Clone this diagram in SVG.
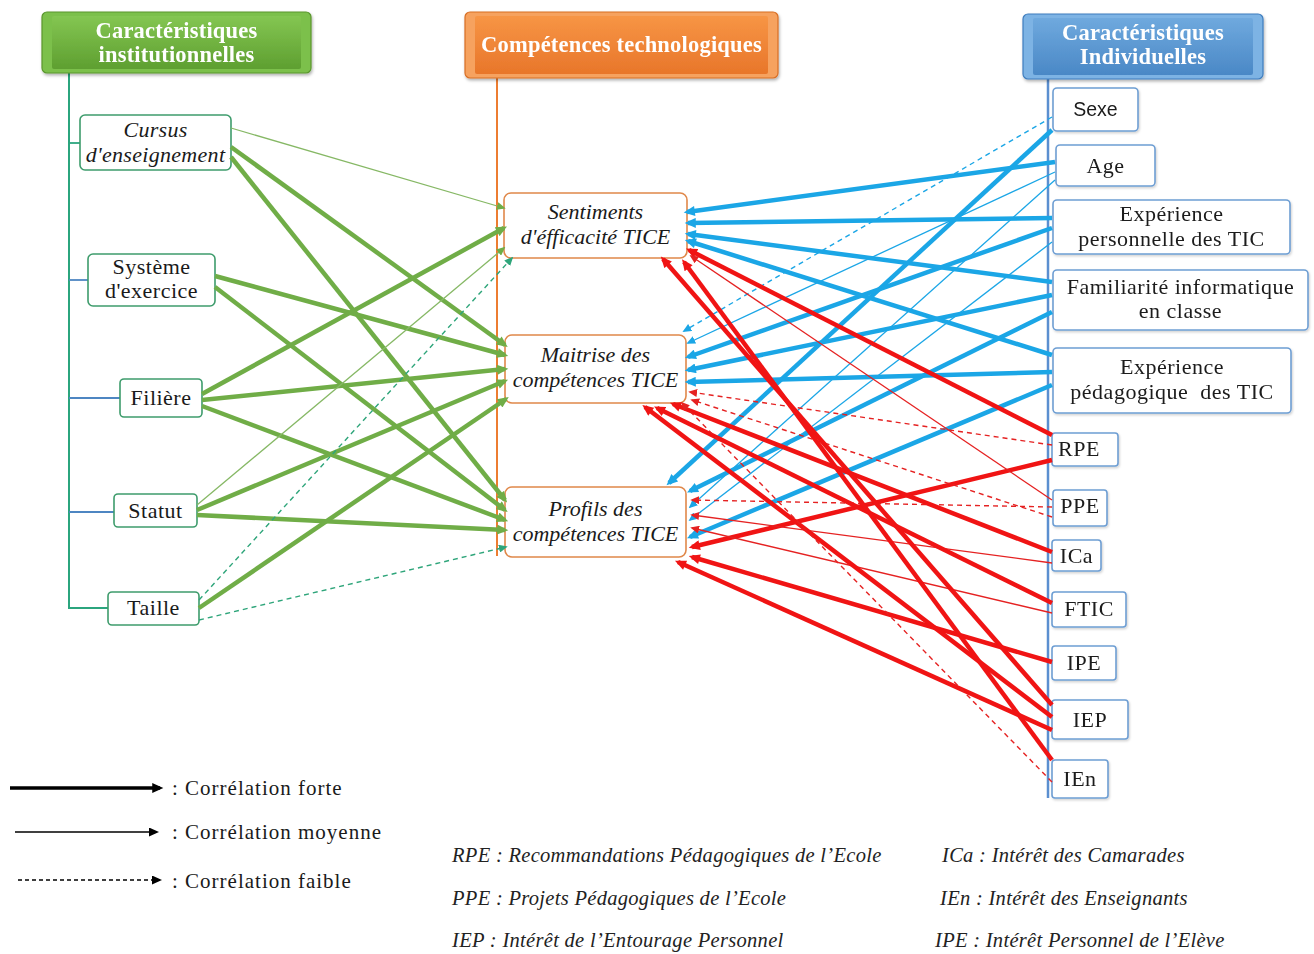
<svg xmlns="http://www.w3.org/2000/svg" width="1314" height="954" viewBox="0 0 1314 954">
<style>
.hd{font-family:"Liberation Serif",serif;font-weight:bold;font-size:22.5px;letter-spacing:0.2px;fill:#fff;text-anchor:middle}
.tx{font-family:"Liberation Serif",serif;font-size:22px;letter-spacing:0.5px;fill:#1a1a1a;text-anchor:middle}
.it{font-style:italic;letter-spacing:0.3px}
.ci{font-style:italic;letter-spacing:0px}
.sn{font-family:"Liberation Sans",sans-serif;font-size:19.5px;fill:#1a1a1a;text-anchor:middle}
.lg{font-family:"Liberation Serif",serif;font-size:21px;letter-spacing:1px;fill:#1a1a1a}
.ab{font-family:"Liberation Serif",serif;font-style:italic;font-size:20.5px;letter-spacing:0.3px;fill:#222}
.nl{fill:#fff;stroke:#3E9C6C;stroke-width:1.6}
.nc{fill:#fff;stroke:#E0884A;stroke-width:1.6}
.nr{fill:#fff;stroke:#6E9ED3;stroke-width:1.6}
.gT{stroke:#70AD47;stroke-width:4.5;fill:none;marker-end:url(#mgT)}
.gt{stroke:#86B865;stroke-width:1.3;fill:none;marker-end:url(#mgt)}
.gd{stroke:#2EA57A;stroke-width:1.4;stroke-dasharray:5 4;fill:none;marker-end:url(#mgd)}
.bT{stroke:#1BA6E6;stroke-width:4.5;fill:none;marker-end:url(#mbT)}
.bt{stroke:#1BA6E6;stroke-width:1.3;fill:none;marker-end:url(#mbt)}
.bd{stroke:#1BA6E6;stroke-width:1.4;stroke-dasharray:5 4;fill:none;marker-end:url(#mbt)}
.rT{stroke:#F01414;stroke-width:4.5;fill:none;marker-end:url(#mrT)}
.rt{stroke:#E52222;stroke-width:1.3;fill:none;marker-end:url(#mrt)}
.rd{stroke:#E52222;stroke-width:1.4;stroke-dasharray:5 4;fill:none;marker-end:url(#mrt)}
</style>
<defs>
<marker id="mgT" viewBox="0 0 10 9" markerWidth="12" markerHeight="10" refX="7" refY="4.5" orient="auto" markerUnits="userSpaceOnUse"><path d="M0,0 L10,4.5 L0,9 z" fill="#70AD47"/></marker>
<marker id="mgt" viewBox="0 0 10 9" markerWidth="9" markerHeight="8" refX="8" refY="4.5" orient="auto" markerUnits="userSpaceOnUse"><path d="M0,0 L10,4.5 L0,9 z" fill="#70AD47"/></marker>
<marker id="mgd" viewBox="0 0 10 9" markerWidth="9" markerHeight="8" refX="8" refY="4.5" orient="auto" markerUnits="userSpaceOnUse"><path d="M0,0 L10,4.5 L0,9 z" fill="#2EA57A"/></marker>
<marker id="mbT" viewBox="0 0 10 9" markerWidth="12" markerHeight="10" refX="7" refY="4.5" orient="auto" markerUnits="userSpaceOnUse"><path d="M0,0 L10,4.5 L0,9 z" fill="#1BA6E6"/></marker>
<marker id="mbt" viewBox="0 0 10 9" markerWidth="9" markerHeight="8" refX="8" refY="4.5" orient="auto" markerUnits="userSpaceOnUse"><path d="M0,0 L10,4.5 L0,9 z" fill="#1BA6E6"/></marker>
<marker id="mrT" viewBox="0 0 10 9" markerWidth="12" markerHeight="10" refX="7" refY="4.5" orient="auto" markerUnits="userSpaceOnUse"><path d="M0,0 L10,4.5 L0,9 z" fill="#F01414"/></marker>
<marker id="mrt" viewBox="0 0 10 9" markerWidth="9" markerHeight="8" refX="8" refY="4.5" orient="auto" markerUnits="userSpaceOnUse"><path d="M0,0 L10,4.5 L0,9 z" fill="#E52222"/></marker>
<marker id="mkT" viewBox="0 0 10 9" markerWidth="12" markerHeight="10" refX="7" refY="4.5" orient="auto" markerUnits="userSpaceOnUse"><path d="M0,0 L10,4.5 L0,9 z" fill="#000"/></marker>
<marker id="mkt" viewBox="0 0 10 9" markerWidth="10" markerHeight="9" refX="8" refY="4.5" orient="auto" markerUnits="userSpaceOnUse"><path d="M0,0 L10,4.5 L0,9 z" fill="#000"/></marker>
<linearGradient id="grG" x1="0" y1="0" x2="0" y2="1"><stop offset="0" stop-color="#84C652"/><stop offset="1" stop-color="#5E9F30"/></linearGradient>
<linearGradient id="grO" x1="0" y1="0" x2="0" y2="1"><stop offset="0" stop-color="#F79545"/><stop offset="1" stop-color="#E8762A"/></linearGradient>
<linearGradient id="grB" x1="0" y1="0" x2="0" y2="1"><stop offset="0" stop-color="#6FA9DE"/><stop offset="1" stop-color="#4A88C6"/></linearGradient>
<filter id="sh" x="-5%" y="-10%" width="110%" height="130%"><feDropShadow dx="1" dy="2" stdDeviation="1.5" flood-color="#000" flood-opacity="0.3"/></filter>
<filter id="sh2" x="-5%" y="-10%" width="115%" height="130%"><feDropShadow dx="1" dy="1.5" stdDeviation="1" flood-color="#000" flood-opacity="0.18"/></filter>
</defs>
<rect width="1314" height="954" fill="#fff"/>

<g id="trunks" fill="none">
<line x1="69" y1="73" x2="69" y2="609" stroke="#2BA57E" stroke-width="2"/>
<line x1="69" y1="143" x2="80" y2="143" stroke="#2BA57E" stroke-width="1.8"/>
<line x1="69" y1="280" x2="88" y2="280" stroke="#4E86C2" stroke-width="1.8"/>
<line x1="69" y1="398" x2="120" y2="398" stroke="#4E86C2" stroke-width="1.8"/>
<line x1="69" y1="512" x2="114" y2="512" stroke="#4E86C2" stroke-width="1.8"/>
<line x1="69" y1="608" x2="108" y2="608" stroke="#2BA57E" stroke-width="1.8"/>
<line x1="497" y1="78" x2="497" y2="556" stroke="#ED7D31" stroke-width="2"/>
<line x1="1048" y1="79" x2="1048" y2="798" stroke="#5B8FD0" stroke-width="2.5"/>
</g>

<g id="header-inst" filter="url(#sh)">
<rect x="42" y="12" width="269" height="61" rx="5" fill="#7CC04B" stroke="#5A962E" stroke-width="1.2"/>
<rect x="52" y="16" width="249" height="53" rx="2" fill="url(#grG)"/>
<text class="hd" x="176.5" y="38">Caractéristiques</text>
<text class="hd" x="176.5" y="62">institutionnelles</text>
</g>
<g id="header-comp" filter="url(#sh)">
<rect x="465" y="12" width="313" height="66" rx="5" fill="#F6A25E" stroke="#D86E25" stroke-width="1.2"/>
<rect x="475" y="16" width="293" height="58" rx="2" fill="url(#grO)"/>
<text class="hd" x="621.5" y="52">Compétences technologiques</text>
</g>
<g id="header-ind" filter="url(#sh)">
<rect x="1023" y="14" width="240" height="65" rx="5" fill="#7DB3E4" stroke="#3F7DBE" stroke-width="1.2"/>
<rect x="1033" y="18" width="220" height="57" rx="2" fill="url(#grB)"/>
<text class="hd" x="1143" y="40">Caractéristiques</text>
<text class="hd" x="1143" y="64">Individuelles</text>
</g>

<g id="n-cursus"><rect class="nl" x="80" y="115" width="151" height="55" rx="5"/><text class="tx it" x="155.5" y="137">Cursus</text><text class="tx it" x="155.5" y="162">d'enseignement</text></g>
<g id="n-systeme"><rect class="nl" x="88" y="254" width="127" height="52" rx="5"/><text class="tx" x="151.5" y="274">Système</text><text class="tx" x="151.5" y="298">d'exercice</text></g>
<g id="n-filiere"><rect class="nl" x="120" y="379" width="82" height="38" rx="4"/><text class="tx" x="161" y="405">Filière</text></g>
<g id="n-statut"><rect class="nl" x="114" y="494" width="83" height="33" rx="4"/><text class="tx" x="155.5" y="518">Statut</text></g>
<g id="n-taille"><rect class="nl" x="108" y="592" width="91" height="33" rx="4"/><text class="tx" x="153.5" y="615">Taille</text></g>

<g id="n-sentiments"><rect class="nc" x="504" y="193" width="183" height="65" rx="7"/><text class="tx ci" x="595.5" y="219">Sentiments</text><text class="tx ci" x="595.5" y="244">d'éfficacité TICE</text></g>
<g id="n-maitrise"><rect class="nc" x="505" y="335" width="181" height="68" rx="7"/><text class="tx ci" x="595.5" y="362">Maitrise des</text><text class="tx ci" x="595.5" y="387">compétences TICE</text></g>
<g id="n-profils"><rect class="nc" x="505" y="487" width="181" height="70" rx="7"/><text class="tx ci" x="595.5" y="516">Profils des</text><text class="tx ci" x="595.5" y="541">compétences TICE</text></g>

<g id="n-sexe" filter="url(#sh2)"><rect class="nr" x="1053" y="88" width="85" height="43" rx="4"/><text class="sn" x="1095.5" y="116">Sexe</text></g>
<g id="n-age" filter="url(#sh2)"><rect class="nr" x="1056" y="145" width="99" height="41" rx="4"/><text class="tx" x="1105.5" y="173">Age</text></g>
<g id="n-expperso" filter="url(#sh2)"><rect class="nr" x="1053" y="200" width="237" height="54" rx="4"/><text class="tx" x="1171.5" y="221">Expérience</text><text class="tx" x="1171.5" y="246">personnelle des TIC</text></g>
<g id="n-familiarite" filter="url(#sh2)"><rect class="nr" x="1053" y="270" width="255" height="60" rx="4"/><text class="tx" x="1180.5" y="294">Familiarité informatique</text><text class="tx" x="1180.5" y="318">en classe</text></g>
<g id="n-expped" filter="url(#sh2)"><rect class="nr" x="1053" y="348" width="238" height="65" rx="4"/><text class="tx" x="1172" y="374">Expérience</text><text class="tx" x="1172" y="399">pédagogique&#160; des TIC</text></g>
<g id="n-rpe" filter="url(#sh2)"><rect class="nr" x="1052" y="433" width="66" height="33" rx="3"/><text class="tx" x="1079" y="456">RPE</text></g>
<g id="n-ppe" filter="url(#sh2)"><rect class="nr" x="1053" y="490" width="54" height="36" rx="3"/><text class="tx" x="1080" y="513">PPE</text></g>
<g id="n-ica" filter="url(#sh2)"><rect class="nr" x="1052" y="540" width="49" height="31" rx="3"/><text class="tx" x="1076.5" y="563">ICa</text></g>
<g id="n-ftic" filter="url(#sh2)"><rect class="nr" x="1052" y="592" width="74" height="35" rx="3"/><text class="tx" x="1089" y="616">FTIC</text></g>
<g id="n-ipe" filter="url(#sh2)"><rect class="nr" x="1052" y="646" width="64" height="34" rx="3"/><text class="tx" x="1084" y="670">IPE</text></g>
<g id="n-iep" filter="url(#sh2)"><rect class="nr" x="1052" y="700" width="76" height="39" rx="3"/><text class="tx" x="1090" y="727">IEP</text></g>
<g id="n-ien" filter="url(#sh2)"><rect class="nr" x="1052" y="760" width="56" height="38" rx="3"/><text class="tx" x="1080" y="786">IEn</text></g>

<g id="connectors">
<line class="gt" x1="231" y1="128" x2="504" y2="208"/>
<line class="gT" x1="231" y1="147" x2="505" y2="345"/>
<line class="gT" x1="231" y1="157" x2="505" y2="500"/>
<line class="gT" x1="215" y1="276" x2="505" y2="355"/>
<line class="gT" x1="215" y1="287" x2="505" y2="510"/>
<line class="gT" x1="202" y1="394" x2="504" y2="228"/>
<line class="gT" x1="202" y1="400" x2="505" y2="369"/>
<line class="gT" x1="202" y1="406" x2="505" y2="520"/>
<line class="gt" x1="197" y1="505" x2="504" y2="248"/>
<line class="gT" x1="197" y1="510" x2="505" y2="381"/>
<line class="gT" x1="197" y1="515" x2="505" y2="530"/>
<line class="gd" x1="199" y1="600" x2="512" y2="258"/>
<line class="gT" x1="199" y1="608" x2="506" y2="399"/>
<line class="gd" x1="199" y1="620" x2="506" y2="547"/>

<line class="bd" x1="1052" y1="117" x2="684" y2="331"/>
<line class="bT" x1="1052" y1="130" x2="669" y2="483"/>
<line class="bT" x1="1055" y1="162" x2="687" y2="212"/>
<line class="bt" x1="1055" y1="172" x2="688" y2="343"/>
<line class="bt" x1="1055" y1="180" x2="690" y2="507"/>
<line class="bT" x1="1052" y1="218" x2="688" y2="223"/>
<line class="bT" x1="1052" y1="228" x2="688" y2="357"/>
<line class="bt" x1="1052" y1="242" x2="690" y2="520"/>
<line class="bT" x1="1052" y1="282" x2="688" y2="234"/>
<line class="bT" x1="1052" y1="295" x2="688" y2="370"/>
<line class="bT" x1="1052" y1="312" x2="690" y2="491"/>
<line class="bT" x1="1052" y1="355" x2="688" y2="241"/>
<line class="bT" x1="1052" y1="372" x2="688" y2="382"/>
<line class="bT" x1="1052" y1="385" x2="690" y2="537"/>

<line class="rT" x1="1052" y1="435" x2="689" y2="250"/>
<line class="rd" x1="1052" y1="445" x2="690" y2="392"/>
<line class="rT" x1="1052" y1="460" x2="692" y2="547"/>
<line class="rt" x1="1052" y1="500" x2="691" y2="256"/>
<line class="rd" x1="1052" y1="507" x2="692" y2="500"/>
<line class="rd" x1="1052" y1="517" x2="692" y2="400"/>
<line class="rT" x1="1052" y1="552" x2="673" y2="404"/>
<line class="rt" x1="1052" y1="563" x2="692" y2="515"/>
<line class="rT" x1="1052" y1="603" x2="657" y2="408"/>
<line class="rt" x1="1052" y1="613" x2="692" y2="528"/>
<line class="rT" x1="1052" y1="662" x2="692" y2="557"/>
<line class="rT" x1="1052" y1="705" x2="663" y2="259"/>
<line class="rT" x1="1052" y1="717" x2="645" y2="407"/>
<line class="rT" x1="1052" y1="730" x2="678" y2="562"/>
<line class="rT" x1="1052" y1="760" x2="684" y2="262"/>
<line class="rd" x1="1052" y1="782" x2="682" y2="403"/>
</g>

<g id="legend">
<line x1="10" y1="788" x2="160" y2="788" stroke="#000" stroke-width="3.5" marker-end="url(#mkT)"/>
<line x1="15" y1="832" x2="157" y2="832" stroke="#000" stroke-width="1.5" marker-end="url(#mkt)"/>
<line x1="18" y1="880" x2="160" y2="880" stroke="#000" stroke-width="1.3" stroke-dasharray="4 3" marker-end="url(#mkt)"/>
<text class="lg" x="172" y="795">: Corrélation forte</text>
<text class="lg" x="172" y="839">: Corrélation moyenne</text>
<text class="lg" x="172" y="888">: Corrélation faible</text>
</g>

<g id="abbreviations">
<text class="ab" x="452" y="862">RPE : Recommandations Pédagogiques de l’Ecole</text>
<text class="ab" x="452" y="905">PPE : Projets Pédagogiques de l’Ecole</text>
<text class="ab" x="452" y="947">IEP : Intérêt de l’Entourage Personnel</text>
<text class="ab" x="942" y="862">ICa : Intérêt des Camarades</text>
<text class="ab" x="940" y="905">IEn : Intérêt des Enseignants</text>
<text class="ab" x="935" y="947">IPE : Intérêt Personnel de l’Elève</text>
</g>
</svg>
